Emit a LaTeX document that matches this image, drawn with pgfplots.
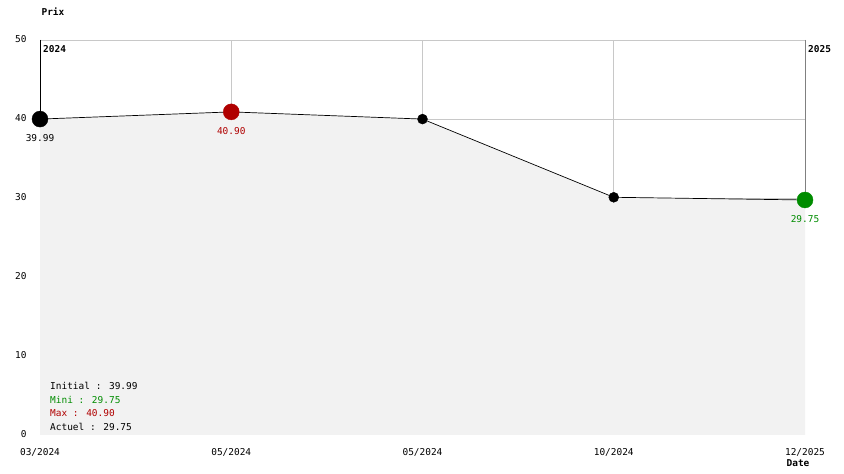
\documentclass[border=0pt]{standalone}
\usepackage{pgfplots}
\pgfplotsset{compat=1.18}
\usepackage{fontspec}
\setmainfont{DejaVu Sans Mono}
\setmonofont{DejaVu Sans Mono}
\definecolor{fillgray}{HTML}{F2F2F2}
\definecolor{gridgray}{HTML}{C8C8C8}
\definecolor{pred}{HTML}{B00000}
\definecolor{pgreen}{HTML}{008C00}
\begin{document}
\begin{tikzpicture}
\useasboundingbox (-40bp,-39bp) rectangle (804bp,435bp);
\begin{axis}[
  at={(0,0)}, anchor=south west,
  scale only axis, width=765bp, height=395bp,
  xmin=0, xmax=4, ymin=0, ymax=50,
  axis lines*=left,
  axis line style={draw=none},
  xtick={0,1,2,3,4},
  xticklabels={03/2024,05/2024,05/2024,10/2024,12/2025},
  ytick={0,10,20,30,40,50},
  yticklabels={0,10,20,30,40,50},
  extra x ticks={1,2,3},
  extra x tick labels={},
  extra y ticks={10,20,30,40,50},
  extra y tick labels={},
  extra tick style={grid=major, major grid style={gridgray, line width=0.8pt}},
  major tick length=0pt,
  tick style={draw=none},
  tick label style={font=\mdseries\fontsize{9.5}{11}\selectfont, text=black},
  yticklabel style={anchor=east, xshift=-10bp, yshift=0.5bp},
  xticklabel style={anchor=north, yshift=-10bp},
  clip=false,
]
\addplot[fill=fillgray, draw=none] coordinates {(0,39.99) (1,40.90) (2,39.99) (3,30.09) (4,29.75)} \closedcycle;
\addplot[black, line width=0.7pt] coordinates {(0,39.99) (1,40.90) (2,39.99) (3,30.09) (4,29.75)};
\draw[black, line width=0.8pt] (axis cs:0,50) -- (axis cs:0,39.99);
\draw[gray, line width=0.8pt] (axis cs:4,50) -- (axis cs:4,29.75);
\addplot[only marks, mark=*, mark size=8bp, black] coordinates {(0,39.99)};
\addplot[only marks, mark=*, mark size=8bp, pred, mark options={fill=pred, draw=pred}] coordinates {(1,40.90)};
\addplot[only marks, mark=*, mark size=5bp, black] coordinates {(2,39.99) (3,30.09)};
\addplot[only marks, mark=*, mark size=8bp, pgreen, mark options={fill=pgreen, draw=pgreen}] coordinates {(4,29.75)};
\node[font=\fontsize{9.5}{11}\selectfont, anchor=center] at (axis cs:0,37.6) {39.99};
\node[font=\fontsize{9.5}{11}\selectfont, text=pred, anchor=center] at (axis cs:1,38.5) {40.90};
\node[font=\fontsize{9.5}{11}\selectfont, text=pgreen, anchor=center] at (axis cs:4,27.3) {29.75};
\node[font=\fontsize{9.5}{11}\bfseries, anchor=north west, inner sep=0pt] at ([xshift=3bp,yshift=-5bp]axis cs:0,50) {2024};
\node[font=\fontsize{9.5}{11}\bfseries, anchor=north west, inner sep=0pt] at ([xshift=3bp,yshift=-5bp]axis cs:4,50) {2025};
\node[font=\fontsize{9.5}{11}\bfseries, anchor=center, inner sep=0pt] at ([xshift=13bp,yshift=28bp]axis cs:0,50) {Prix};
\node[font=\fontsize{9.5}{11}\bfseries, anchor=center, inner sep=0pt] at ([xshift=-7bp,yshift=-28bp]axis cs:4,0) {Date};
\node[font=\fontsize{9.5}{11}\selectfont, anchor=base west, inner sep=0pt] at (axis cs:0.0523,5.82) {Initial : 39.99};
\node[font=\fontsize{9.5}{11}\selectfont, text=pgreen, anchor=base west, inner sep=0pt] at (axis cs:0.0523,4.05) {Mini : 29.75};
\node[font=\fontsize{9.5}{11}\selectfont, text=pred, anchor=base west, inner sep=0pt] at (axis cs:0.0523,2.28) {Max : 40.90};
\node[font=\fontsize{9.5}{11}\selectfont, anchor=base west, inner sep=0pt] at (axis cs:0.0523,0.51) {Actuel : 29.75};
\end{axis}
\end{tikzpicture}
\end{document}
